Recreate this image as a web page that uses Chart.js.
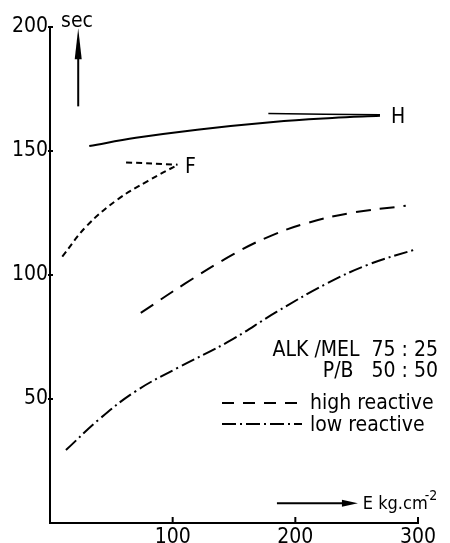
<!DOCTYPE html>
<html>
<head>
<meta charset="utf-8">
<script src="https://cdn.jsdelivr.net/npm/chart.js@4.4.1/dist/chart.umd.min.js"></script>
<style>
    html, body { margin: 0; padding: 0; background: #fff; }
</style>
</head>
<body>
<canvas id="chart" width="450" height="543"></canvas>
<script>
// curve H (solid) and its leader to the label
const hE = [32, 70, 120, 182, 230, 269];
const hT = [152, 155.3, 158.6, 161.7, 163.3, 164.2];
const hLeadE = [178, 269];
const hLeadT = [165.1, 164.6];

// curve F (short dashes) and its leader
const fE = [10, 30, 55, 80, 104];
const fT = [107.4, 119.8, 130.4, 138, 144.4];
const fLeadE = [62, 104];
const fLeadT = [145.4, 144.5];

// high reactive (long dashes)
const highE = [74, 110, 150, 180, 210, 245, 290];
const highT = [84.7, 96.5, 108.5, 115.8, 121, 125, 127.9];

// low reactive (dash-dot)
const lowE = [13, 40, 70, 105, 145, 185, 225, 260, 299];
const lowT = [29.4, 41.8, 53.2, 62.8, 73, 85.2, 96.4, 104.3, 110.5];

const xTicks = [100, 200, 300];
const yTicks = [50, 100, 150, 200];

const FONT = '"DejaVu Sans Condensed", "DejaVu Sans", sans-serif';

const toPoints = (xs, ys) => xs.map((x, i) => ({ x: x, y: ys[i] }));

const line = (xs, ys, dash, width) => ({
    data: toPoints(xs, ys),
    borderColor: '#000',
    borderWidth: width || 2,
    borderDash: dash,
    pointRadius: 0,
    fill: false,
    tension: 0.4,
});

const DASH_F = [6, 4];
const DASH_HIGH = [15, 9];
const DASH_LOW = [14, 4, 2, 4];

// axis ticks, arrows and the text notes
const decor = {
    id: 'decor',
    afterDraw(chart) {
        const ctx = chart.ctx;
        const xs = chart.scales.x;
        const ys = chart.scales.y;
        const area = chart.chartArea;
        const px = (v) => xs.getPixelForValue(v);
        const py = (v) => ys.getPixelForValue(v);

        ctx.save();
        ctx.strokeStyle = '#000';
        ctx.fillStyle = '#000';
        ctx.lineWidth = 2;

        // tick marks
        yTicks.forEach((t) => {
            ctx.beginPath();
            ctx.moveTo(area.left - 2, py(t));
            ctx.lineTo(area.left + 3, py(t));
            ctx.stroke();
        });
        xTicks.forEach((t) => {
            ctx.beginPath();
            ctx.moveTo(px(t), area.bottom);
            ctx.lineTo(px(t), area.bottom - 6);
            ctx.stroke();
        });

        // y arrow + "sec"
        const ax = px(23);
        ctx.beginPath();
        ctx.moveTo(ax, py(168));
        ctx.lineTo(ax, py(190));
        ctx.stroke();
        ctx.beginPath();
        ctx.moveTo(ax, py(199.5));
        ctx.lineTo(ax - 3.5, py(187));
        ctx.lineTo(ax + 3.5, py(187));
        ctx.closePath();
        ctx.fill();

        ctx.font = '21px ' + FONT;
        ctx.textAlign = 'left';
        ctx.textBaseline = 'alphabetic';
        ctx.fillText('sec', px(9), 27);

        // x arrow + unit
        const ay = py(8);
        ctx.beginPath();
        ctx.moveTo(px(185), ay);
        ctx.lineTo(px(240), ay);
        ctx.stroke();
        ctx.beginPath();
        ctx.moveTo(px(251), ay);
        ctx.lineTo(px(238), ay - 3.5);
        ctx.lineTo(px(238), ay + 3.5);
        ctx.closePath();
        ctx.fill();
        ctx.font = '18px ' + FONT;
        ctx.fillText('E kg.cm', px(255), ay + 6);
        const w = ctx.measureText('E kg.cm').width;
        ctx.font = '14px ' + FONT;
        ctx.fillText('-2', px(255) + w - 3, ay - 3);

        // curve labels
        ctx.font = '21px ' + FONT;
        ctx.fillText('H', px(278), py(164.5) + 8);
        ctx.fillText('F', px(110), py(144.5) + 8);

        // composition note
        ctx.textAlign = 'right';
        ctx.fillText('ALK /MEL  75 : 25', 438, 356);
        ctx.fillText('P/B   50 : 50', 438, 377);

        // legend
        ctx.textAlign = 'left';
        ctx.fillText('high reactive', 310, 409);
        ctx.fillText('low reactive', 310, 431);
        ctx.setLineDash([12, 9]);
        ctx.beginPath();
        ctx.moveTo(222, 403);
        ctx.lineTo(302, 403);
        ctx.stroke();
        ctx.setLineDash(DASH_LOW);
        ctx.beginPath();
        ctx.moveTo(222, 424);
        ctx.lineTo(302, 424);
        ctx.stroke();
        ctx.restore();
    },
};

new Chart(document.getElementById('chart'), {
    type: 'line',
    data: {
        datasets: [
            line(hE, hT, []),
            line(hLeadE, hLeadT, [], 1.5),
            line(fE, fT, DASH_F),
            line(fLeadE, fLeadT, DASH_F),
            line(highE, highT, DASH_HIGH),
            line(lowE, lowT, DASH_LOW),
        ],
    },
    options: {
        responsive: false,
        animation: false,
        layout: {
            padding: { top: 27, right: 32, left: 0, bottom: 0 },
        },
        plugins: {
            legend: { display: false },
            tooltip: { enabled: false },
        },
        scales: {
            x: {
                type: 'linear',
                min: 0,
                max: 300,
                afterFit: (s) => { s.height = 20; },
                afterBuildTicks: (s) => { s.ticks = xTicks.map((v) => ({ value: v })); },
                grid: { display: false, drawTicks: false },
                border: { display: true, color: '#000', width: 2 },
                ticks: {
                    color: '#000',
                    padding: 2,
                    font: { family: FONT, size: 21 },
                },
            },
            y: {
                min: 0,
                max: 200,
                afterFit: (s) => { s.width = 50; },
                afterBuildTicks: (s) => { s.ticks = yTicks.map((v) => ({ value: v })); },
                grid: { display: false, drawTicks: false },
                border: { display: true, color: '#000', width: 2 },
                ticks: {
                    color: '#000',
                    padding: 2,
                    font: { family: FONT, size: 21 },
                },
            },
        },
    },
    plugins: [decor],
});
</script>
</body>
</html>
